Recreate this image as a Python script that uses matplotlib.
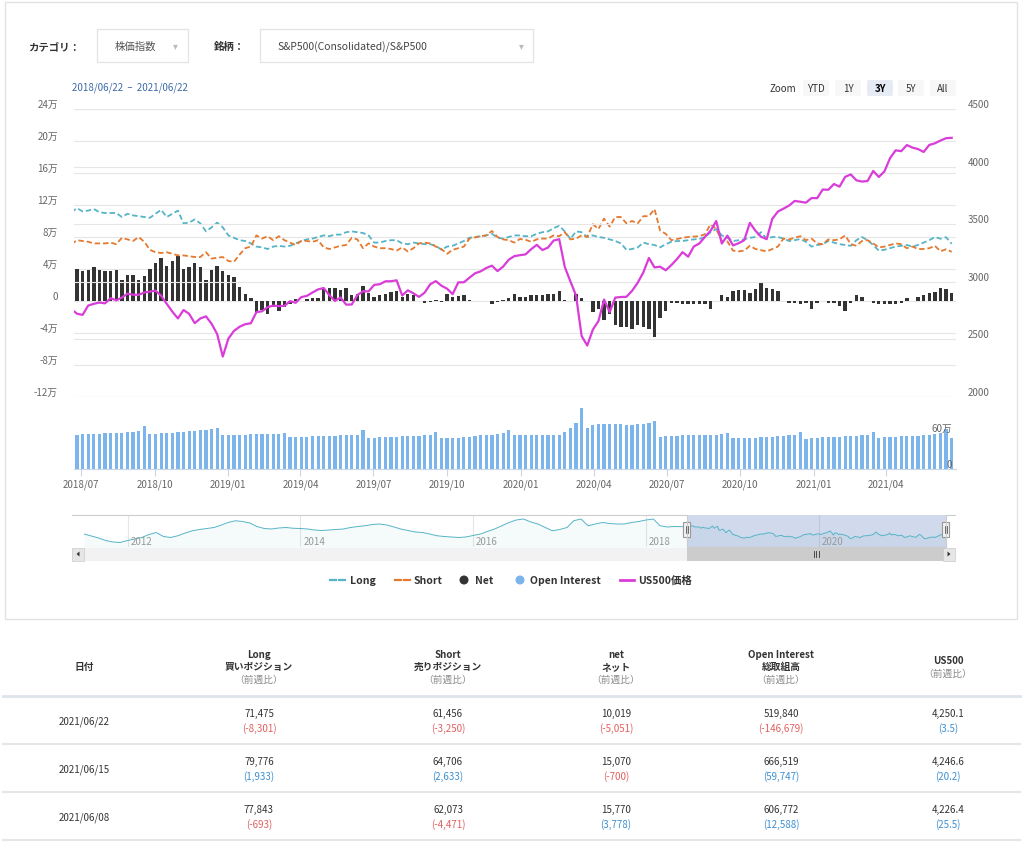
import numpy as np
import pandas as pd
import matplotlib
matplotlib.use('Agg')
import matplotlib.pyplot as plt
import matplotlib.dates as mdates
from matplotlib.patches import Rectangle, FancyBboxPatch, Circle, Polygon
from matplotlib.lines import Line2D

plt.rcParams['font.family'] = ['Noto Sans CJK JP', 'DejaVu Sans']
plt.rcParams['axes.unicode_minus'] = False

# ---- weekly COT data (S&P500 consolidated), 2018/06/19 .. 2021/06/22, in 1000 contracts ----
# (the first week lies just left of the 3Y window; the lines run into the plot edge from it)
long_k = [
    111,
    116, 112, 113, 115, 111, 110, 110, 110, 105, 109,
    107, 106, 105, 104, 109, 114, 105, 109, 113, 97,
    98, 102, 97, 87, 92, 98, 92, 82, 79, 76,
    75, 72, 68, 67, 65, 68, 69, 68, 69, 72,
    75, 77, 78, 80, 82, 81, 83, 83, 86, 87,
    86, 85, 82, 73, 73, 75, 76, 76, 72, 71,
    73, 72, 71, 71, 69, 64, 68, 69, 72, 75,
    79, 80, 81, 82, 84, 79, 78, 80, 82, 82,
    81, 81, 84, 86, 87, 91, 94, 87, 77.5, 87,
    86, 80, 82, 80, 79, 77, 75, 72, 64, 65,
    67, 73, 71, 70, 67, 71, 74, 75, 75, 76,
    77, 77.5, 80, 86, 90, 82, 79, 75, 76, 77,
    79, 80, 86, 78, 80, 80, 78, 75, 76, 77.5,
    74, 68, 70, 71, 75, 73, 71, 70, 69, 76,
    80, 76, 70, 63, 64, 66, 68, 69, 70, 68,
    70, 73, 76, 80, 77.843, 79.776, 71.475,
]
short_k = [
    71,
    76, 75, 74, 72, 72, 72, 73, 71, 79, 77,
    75, 80, 74, 64, 61, 60, 61, 59, 57, 57,
    56, 55, 55, 61, 53, 54, 55, 50, 49, 58,
    66, 68, 82, 78, 81, 76, 81, 76, 73, 70,
    75, 75, 74, 76, 67, 65, 67, 69, 70, 79,
    77, 66, 72, 68, 66, 66, 65, 63, 67, 62,
    66, 72, 73, 72, 68, 65, 59, 64, 66, 68,
    78, 79.5, 81, 82, 87.5, 80, 77, 76, 73, 77.5,
    76.5, 74, 77, 78, 78, 82, 81, 86, 77, 78,
    82, 80, 96, 90, 103, 93, 105, 105, 97, 100,
    97, 106, 106, 115, 88, 84, 76, 77.5, 79, 80,
    80.5, 81, 83.5, 96, 90, 75, 74.5, 63, 62, 63,
    69, 65, 63.5, 62, 65, 68, 78, 77, 79, 81,
    76, 78, 72, 71, 77, 76, 77, 82, 71, 69,
    75, 76, 72, 67, 68, 70, 72, 71, 66, 68,
    65, 65, 66, 69, 62.073, 64.706, 61.456,
]
oi_k = [
    570,
    575, 580, 582, 590, 592, 598, 600, 605, 610, 615,
    622, 630, 715, 580, 585, 595, 600, 610, 615, 625,
    630, 640, 648, 660, 670, 690, 570, 565, 572, 575,
    575, 580, 578, 580, 582, 585, 580, 600, 530, 528,
    535, 540, 545, 548, 550, 552, 555, 560, 565, 570,
    575, 650, 520, 525, 535, 540, 540, 538, 545, 545,
    550, 555, 560, 575, 620, 512, 515, 518, 525, 530,
    540, 550, 560, 568, 575, 585, 600, 660, 560, 560,
    560, 565, 565, 560, 570, 572, 575, 620, 680, 770,
    1020, 690, 740, 750, 750, 750, 745, 745, 740, 740,
    745, 755, 770, 800, 540, 545, 548, 550, 560, 560,
    562, 565, 565, 562, 568, 580, 600, 515, 520, 520,
    520, 525, 530, 535, 540, 545, 550, 560, 570, 620,
    505, 520, 525, 528, 530, 540, 540, 545, 555, 555,
    570, 575, 620, 520, 528, 535, 540, 545, 548, 550,
    550, 560, 570, 585, 606.772, 666.519, 519.840,
]
us500 = [
    2762,
    2723, 2713, 2794, 2809, 2820, 2813, 2858, 2839, 2863, 2897,
    2888, 2887, 2907, 2915, 2923, 2880, 2809, 2741, 2682, 2755,
    2722, 2641, 2682, 2700, 2636, 2546, 2351, 2507, 2574, 2610,
    2632, 2640, 2737, 2744, 2780, 2793, 2789, 2791, 2832, 2818,
    2867, 2878, 2907, 2934, 2946, 2884, 2834, 2864, 2802, 2803,
    2885, 2917, 2917, 2973, 2979, 3004, 3005, 3013, 2881, 2926,
    2900, 2869, 2906, 2979, 3006, 2966, 2940, 2893, 2995, 2996,
    3036, 3074, 3091, 3120, 3140, 3093, 3132, 3192, 3223, 3231,
    3238, 3283, 3321, 3276, 3297, 3358, 3370, 3128, 3003, 2882,
    2529, 2447, 2585, 2659, 2846, 2737, 2863, 2868, 2870, 2922,
    2992, 3081, 3207, 3125, 3131, 3100, 3145, 3197, 3257, 3218,
    3306, 3333, 3390, 3443, 3527, 3332, 3401, 3316, 3335, 3361,
    3512, 3443, 3391, 3370, 3546, 3610, 3635, 3662, 3702, 3695,
    3687, 3727, 3726, 3801, 3799, 3849, 3826, 3911, 3932, 3881,
    3870, 3875, 3962, 3910, 3958, 4073, 4141, 4134, 4187, 4165,
    4152, 4127, 4188, 4202, 4226.4, 4246.6, 4250.1,
]
# navigator: monthly Long before the 3Y window (2011/07 .. 2018/05), 1000 contracts
nav_hist_k = [
    82, 74, 66, 56, 50, 48,
    56, 62, 68, 80, 88, 72, 68, 75, 86, 95, 100, 104,
    108, 118, 128, 135, 132, 126, 112, 104, 102, 106, 108, 105,
    104, 102, 98, 96, 98, 100, 102, 108, 112, 115, 120, 122,
    118, 110, 102, 96, 90, 88, 82, 75, 72, 70, 68, 70,
    76, 82, 92, 102, 115, 128, 138, 142, 130, 122, 108, 95,
    100, 108, 135, 142, 115, 122, 128, 124, 122, 122, 128, 132,
    138, 142, 115, 110, 112,
]
nav_years = [2012, 2014, 2016, 2018, 2020]

range_start = pd.Timestamp('2018-06-22')
range_end = pd.Timestamp('2021-06-22')
week_dates = pd.date_range('2018-06-19', periods=len(long_k), freq='7D')
nav_hist_dates = pd.date_range('2011-07-01', periods=len(nav_hist_k), freq='MS')

long_v = np.array(long_k) * 1000
short_v = np.array(short_k) * 1000
net_v = long_v - short_v
oi_v = np.array(oi_k) * 1000
in_win = week_dates >= range_start

series_names = ['Long', 'Short', 'Net', 'Open Interest', 'US500価格']
c_long, c_short, c_net, c_oi, c_px = '#55b4c6', '#e5792f', '#333333', '#7cb5ec', '#d93cd9'

# ---- table ----
tbl_dates = ['2021/06/22', '2021/06/15', '2021/06/08']
tbl_long = [71475, 79776, 77843]
tbl_long_chg = [-8301, 1933, -693]
tbl_short = [61456, 64706, 62073]
tbl_short_chg = [-3250, 2633, -4471]
tbl_net = [10019, 15070, 15770]
tbl_net_chg = [-5051, -700, 3778]
tbl_oi = [519840, 666519, 606772]
tbl_oi_chg = [-146679, 59747, 12588]
tbl_px = [4250.1, 4246.6, 4226.4]
tbl_px_chg = [3.5, 20.2, 25.5]
tbl_headers = [['日付'], ['Long', '買いポジション', '（前週比）'], ['Short', '売りポジション', '（前週比）'],
               ['net', 'ネット', '（前週比）'], ['Open Interest', '総取組高', '（前週比）'], ['US500', '（前週比）']]

W, H = 1024, 845
fig = plt.figure(figsize=(W / 100, H / 100), dpi=100)
fig.patch.set_facecolor('white')


def px_axes(x0, y0, x1, y1):
    return fig.add_axes([x0 / W, 1 - y1 / H, (x1 - x0) / W, (y1 - y0) / H])


cv = px_axes(0, 0, W, H)
cv.set_xlim(0, W)
cv.set_ylim(H, 0)
cv.axis('off')

GRAY = '#666666'
DARK = '#333333'

# card border
cv.add_patch(Rectangle((5, 3), 1012, 617, fill=False, ec='#e2e2e2', lw=1))

# selectors
cv.text(28, 47, 'カテゴリ：', fontsize=7.5, fontweight='bold', color=DARK, va='center')
cv.add_patch(Rectangle((97, 30), 91, 33, fc='white', ec='#e3e3e3', lw=0.9))
cv.text(135, 47, '株価指数', fontsize=7.5, color='#555555', va='center', ha='center')
cv.text(175, 46, '▾', fontsize=7, color='#bbbbbb', va='center', ha='center')
cv.text(214, 47, '銘柄：', fontsize=7.5, fontweight='bold', color=DARK, va='center')
cv.add_patch(Rectangle((260, 30), 273, 33, fc='white', ec='#e3e3e3', lw=0.9))
cv.text(277, 47, 'S&P500(Consolidated)/S&P500', fontsize=7.5, color='#444444', va='center')
cv.text(521, 46, '▾', fontsize=7, color='#bbbbbb', va='center', ha='center')

# range text and zoom buttons
cv.text(72, 88, range_start.strftime('%Y/%m/%d') + '  –  ' + range_end.strftime('%Y/%m/%d'),
        fontsize=7, color='#3e6aa8', va='center')
cv.text(770, 89.5, 'Zoom', fontsize=7, color=DARK, va='center')
zoom_buttons = ['YTD', '1Y', '3Y', '5Y', 'All']
zoom_x = [803, 835, 867, 898, 930]
for lab, bx in zip(zoom_buttons, zoom_x):
    sel = lab == '3Y'
    cv.add_patch(FancyBboxPatch((bx, 81), 26, 16, boxstyle='round,pad=0,rounding_size=2',
                                fc='#e6ebf5' if sel else '#f7f7f7', ec='none'))
    cv.text(bx + 13, 89.5, lab, fontsize=7, color='black' if sel else DARK,
            fontweight='bold' if sel else 'normal', ha='center', va='center')

# ---- main pane ----
X0, X1 = 73.8, 955.7
xlim = (range_start, range_end + pd.Timedelta(days=5))

ax = px_axes(X0, 110, X1, 398)
ax.bar(week_dates[in_win], net_v[in_win], width=4.2, color=c_net, zorder=2)
ax.plot(week_dates, long_v, color=c_long, lw=1.3, dashes=(3, 1.6), zorder=3)
ax.plot(week_dates, short_v, color=c_short, lw=1.3, dashes=(3, 1.6), zorder=3)
ax.set_xlim(xlim)
ax.set_ylim(-120000, 240000)
lt = np.arange(-120000, 240001, 40000)
ax.set_yticks(lt)
ax.set_yticklabels(['0' if v == 0 else f'{v // 10000}万' for v in lt])
ax.grid(axis='y', color='#e6e6e6', lw=0.8)
ax.set_axisbelow(True)
ax.tick_params(axis='y', length=0, pad=11.4, labelsize=7, labelcolor=GRAY)
ax.tick_params(axis='x', bottom=False, labelbottom=False)
plt.setp(ax.get_yticklabels(), va='bottom')
for s in ax.spines.values():
    s.set_visible(False)

ax2 = ax.twinx()
ax2.plot(week_dates, us500, color=c_px, lw=1.6, zorder=4)
ax2.set_xlim(xlim)
ax2.set_ylim(2000, 4500)
ax2.set_yticks(np.arange(2000, 4501, 500))
ax2.grid(axis='y', color='#e6e6e6', lw=0.8, zorder=0)
ax2.tick_params(axis='y', length=0, pad=8.8, labelsize=7, labelcolor=GRAY)
plt.setp(ax2.get_yticklabels(), va='bottom')
for s in ax2.spines.values():
    s.set_visible(False)

# ---- open interest pane ----
axo = px_axes(X0, 400, X1, 470)
axo.bar(week_dates[in_win], oi_v[in_win], width=4.0, color=c_oi)
axo.set_xlim(xlim)
axo.set_ylim(0, 1170000)
axo.yaxis.tick_right()
axo.set_yticks([0, 600000])
axo.set_yticklabels(['0', '60万'])
axo.tick_params(axis='y', length=0, pad=-2.8, labelsize=7, labelcolor=GRAY)
plt.setp(axo.get_yticklabels(), ha='right', va='bottom')
axo.xaxis.set_major_locator(mdates.MonthLocator(bymonth=(1, 4, 7, 10)))
axo.xaxis.set_major_formatter(mdates.DateFormatter('%Y/%m'))
axo.tick_params(axis='x', length=5, width=0.8, color='#ccd6eb', pad=2, labelsize=7, labelcolor=GRAY)
for k, s in axo.spines.items():
    s.set_visible(k == 'bottom')
axo.spines['bottom'].set_color('#ccd6eb')
axo.spines['bottom'].set_linewidth(0.8)
axo.patch.set_alpha(0)

# ---- navigator ----
nav_dates = nav_hist_dates.append(week_dates)
nav_vals = np.concatenate([np.array(nav_hist_k) * 1000, long_v])
nav = px_axes(84, 516, 946, 548)
for yr in nav_years:
    d = pd.Timestamp(f'{yr}-01-01')
    nav.axvline(d, color='#e6e6e6', lw=0.8, zorder=0)
    nav.annotate(str(yr), (d, 0), xycoords=('data', 'axes fraction'), xytext=(3, 1),
                 textcoords='offset pixels', fontsize=7, color='#999999', va='bottom', ha='left')
nav.plot(nav_dates, nav_vals, color=c_long, lw=0.7)
nav.fill_between(nav_dates, nav_vals, 0, color=c_long, alpha=0.06, lw=0)
nav.axvspan(range_start, range_end, color=(0.4, 0.52, 0.76), alpha=0.3, lw=0)
nav.set_xlim(nav_dates[0], range_end)
nav.set_ylim(30000, 158000)
nav.axis('off')

# selection handles / scrollbar positions from navigator scale
hx0 = nav.transData.transform((mdates.date2num(range_start), 0))[0]
hx1 = nav.transData.transform((mdates.date2num(range_end), 0))[0]

top = px_axes(0, 0, W, H)
top.set_xlim(0, W)
top.set_ylim(H, 0)
top.axis('off')

top.plot([72, hx0, hx0, hx1, hx1, 955], [516, 516, 548, 548, 516, 516], color='#cccccc', lw=0.8)
for hx in (hx0, hx1):
    top.add_patch(Rectangle((hx - 3.5, 523), 7, 15, fc='#f2f2f2', ec='#999999', lw=0.8))
    top.plot([hx - 1, hx - 1], [527, 534], color='#333333', lw=0.5)
    top.plot([hx + 1, hx + 1], [527, 534], color='#333333', lw=0.5)

top.add_patch(Rectangle((72, 548.5), 883, 13, fc='#f2f2f2', ec='none'))
top.add_patch(Rectangle((hx0, 548.5), hx1 - hx0, 13, fc='#cccccc', ec='none'))
for gx in (-2.5, 0, 2.5):
    cx = (hx0 + hx1) / 2 + gx
    top.plot([cx, cx], [552, 558], color='#333333', lw=0.6)
top.add_patch(Rectangle((72, 548.5), 12, 13, fc='#e6e6e6', ec='#cccccc', lw=0.5))
top.add_patch(Rectangle((943, 548.5), 12, 13, fc='#e6e6e6', ec='#cccccc', lw=0.5))
top.add_patch(Polygon([[76.5, 555], [79.5, 552.5], [79.5, 557.5]], closed=True, fc='#333333', ec='none'))
top.add_patch(Polygon([[950.5, 555], [947.5, 552.5], [947.5, 557.5]], closed=True, fc='#333333', ec='none'))

# ---- legend ----
LY = 581
top.add_line(Line2D([330, 336], [LY, LY], color=c_long, lw=1.6))
top.add_line(Line2D([339, 345], [LY, LY], color=c_long, lw=1.6))
top.text(350, LY, series_names[0], fontsize=7.5, fontweight='bold', color=DARK, va='center')
top.add_line(Line2D([395, 401], [LY, LY], color=c_short, lw=1.6))
top.add_line(Line2D([404, 410], [LY, LY], color=c_short, lw=1.6))
top.text(414, LY, series_names[1], fontsize=7.5, fontweight='bold', color=DARK, va='center')
top.add_patch(Circle((464, LY), 4.5, fc=c_net, ec='none'))
top.text(475, LY, series_names[2], fontsize=7.5, fontweight='bold', color=DARK, va='center')
top.add_patch(Circle((520, LY), 4.5, fc=c_oi, ec='none'))
top.text(530, LY, series_names[3], fontsize=7.5, fontweight='bold', color=DARK, va='center')
top.add_line(Line2D([620, 634], [LY, LY], color=c_px, lw=2))
top.text(638, LY, series_names[4], fontsize=7.5, fontweight='bold', color=DARK, va='center')

# ---- table ----
col_x = [84, 259, 448, 616, 781, 948]
for cx, lines in zip(col_x, tbl_headers):
    if len(lines) == 3:
        ys = [655, 667, 680]
    elif len(lines) == 2:
        ys = [661, 674]
    else:
        ys = [667]
    for ln, yy in zip(lines, ys):
        gray = ln.startswith('（')
        cv.text(cx, yy, ln, fontsize=7, ha='center', va='center',
                color='#888888' if gray else DARK, fontweight='normal' if gray else 'bold')
cv.plot([3, 1020], [697, 697], color='#dde4ea', lw=2)

RED, BLUE = '#e06060', '#3d8fd1'
row_top = [714, 762, 810]
cols = [(tbl_long, tbl_long_chg), (tbl_short, tbl_short_chg), (tbl_net, tbl_net_chg),
        (tbl_oi, tbl_oi_chg), (tbl_px, tbl_px_chg)]
for r, ry in enumerate(row_top):
    cv.text(col_x[0], ry + 7.5, tbl_dates[r], fontsize=7, ha='center', va='center', color=DARK)
    for c, (vals, chg) in enumerate(cols):
        v, d = vals[r], chg[r]
        vs = f'{v:,.1f}' if isinstance(v, float) else f'{v:,}'
        ds = f'{d:,.1f}' if isinstance(d, float) else f'{d:,}'
        cv.text(col_x[c + 1], ry, vs, fontsize=7, ha='center', va='center', color=DARK)
        cv.text(col_x[c + 1], ry + 15, f'({ds})', fontsize=7, ha='center', va='center',
                color=RED if d < 0 else BLUE)
    cv.plot([3, 1020], [ry + 31, ry + 31], color='#e6e6e6', lw=1.5)

fig.savefig('out.png', dpi=100)
